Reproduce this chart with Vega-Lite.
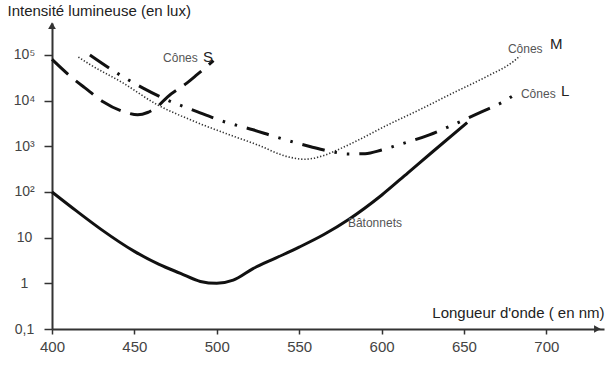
{
  "$schema": "https://vega.github.io/schema/vega-lite/v6.json",
  "width": 552,
  "height": 306,
  "autosize": "none",
  "padding": {"left": 52, "top": 23, "right": 8, "bottom": 36},
  "background": "white",
  "config": {
    "view": {"stroke": null},
    "font": "Liberation Sans",
    "axis": {"domain": true, "ticks": true, "grid": false, "domainColor": "#333333", "domainWidth": 2, "tickColor": "#333333", "tickWidth": 1.5, "labelColor": "#444", "labelFont": "Liberation Sans", "titleFont": "Liberation Sans", "titleFontWeight": "normal", "titleColor": "#222", "titleFontSize": 15, "labelFlush": false}
  },
  "datasets": {
    "curves": [
      {"serie": "Bâtonnets", "nm": 400, "lux": 100},
      {"serie": "Bâtonnets", "nm": 415, "lux": 38},
      {"serie": "Bâtonnets", "nm": 430, "lux": 15},
      {"serie": "Bâtonnets", "nm": 450, "lux": 5},
      {"serie": "Bâtonnets", "nm": 465, "lux": 2.6},
      {"serie": "Bâtonnets", "nm": 478, "lux": 1.65},
      {"serie": "Bâtonnets", "nm": 490, "lux": 1.1},
      {"serie": "Bâtonnets", "nm": 500, "lux": 1.0},
      {"serie": "Bâtonnets", "nm": 510, "lux": 1.17},
      {"serie": "Bâtonnets", "nm": 522, "lux": 2.1},
      {"serie": "Bâtonnets", "nm": 536, "lux": 3.6},
      {"serie": "Bâtonnets", "nm": 550, "lux": 6.2},
      {"serie": "Bâtonnets", "nm": 565, "lux": 11.7},
      {"serie": "Bâtonnets", "nm": 580, "lux": 25},
      {"serie": "Bâtonnets", "nm": 600, "lux": 85},
      {"serie": "Bâtonnets", "nm": 616, "lux": 263},
      {"serie": "Bâtonnets", "nm": 631, "lux": 760},
      {"serie": "Bâtonnets", "nm": 652, "lux": 3300},
      {"serie": "S", "nm": 400, "lux": 80000},
      {"serie": "S", "nm": 410, "lux": 37000},
      {"serie": "S", "nm": 420, "lux": 19000},
      {"serie": "S", "nm": 431, "lux": 9500},
      {"serie": "S", "nm": 445, "lux": 5500},
      {"serie": "S", "nm": 452, "lux": 4900},
      {"serie": "S", "nm": 458, "lux": 5500},
      {"serie": "S", "nm": 464, "lux": 7400},
      {"serie": "S", "nm": 470, "lux": 12000},
      {"serie": "S", "nm": 482, "lux": 24500},
      {"serie": "S", "nm": 488, "lux": 37000},
      {"serie": "S", "nm": 498, "lux": 75000},
      {"serie": "M", "nm": 416, "lux": 90000},
      {"serie": "M", "nm": 423, "lux": 62000},
      {"serie": "M", "nm": 443, "lux": 24500},
      {"serie": "M", "nm": 464, "lux": 8100},
      {"serie": "M", "nm": 484, "lux": 3800},
      {"serie": "M", "nm": 504, "lux": 2000},
      {"serie": "M", "nm": 524, "lux": 1100},
      {"serie": "M", "nm": 544, "lux": 580},
      {"serie": "M", "nm": 553, "lux": 520},
      {"serie": "M", "nm": 565, "lux": 630},
      {"serie": "M", "nm": 575, "lux": 890},
      {"serie": "M", "nm": 585, "lux": 1320},
      {"serie": "M", "nm": 603, "lux": 2850},
      {"serie": "M", "nm": 623, "lux": 6300},
      {"serie": "M", "nm": 643, "lux": 14500},
      {"serie": "M", "nm": 664, "lux": 34000},
      {"serie": "M", "nm": 680, "lux": 72000},
      {"serie": "M", "nm": 684, "lux": 95000},
      {"serie": "L", "nm": 423, "lux": 100000},
      {"serie": "L", "nm": 440, "lux": 39000},
      {"serie": "L", "nm": 455, "lux": 19000},
      {"serie": "L", "nm": 467, "lux": 11500},
      {"serie": "L", "nm": 488, "lux": 5750},
      {"serie": "L", "nm": 501, "lux": 3800},
      {"serie": "L", "nm": 522, "lux": 2300},
      {"serie": "L", "nm": 536, "lux": 1600},
      {"serie": "L", "nm": 557, "lux": 980},
      {"serie": "L", "nm": 570, "lux": 760},
      {"serie": "L", "nm": 580, "lux": 680},
      {"serie": "L", "nm": 590, "lux": 690},
      {"serie": "L", "nm": 600, "lux": 830},
      {"serie": "L", "nm": 610, "lux": 1070},
      {"serie": "L", "nm": 629, "lux": 1780},
      {"serie": "L", "nm": 641, "lux": 2700},
      {"serie": "L", "nm": 661, "lux": 5750},
      {"serie": "L", "nm": 674, "lux": 9500},
      {"serie": "L", "nm": 680, "lux": 13000}
    ],
    "smallLabels": [
      {"text": "Cônes", "nm": 467.4, "lux": 87000},
      {"text": "Cônes", "nm": 676.7, "lux": 132000},
      {"text": "Cônes", "nm": 684.6, "lux": 14000},
      {"text": "Bâtonnets", "nm": 579.6, "lux": 21}
    ],
    "bigLabels": [
      {"text": "S", "nm": 491.6, "lux": 91000},
      {"text": "M", "nm": 702.2, "lux": 170000},
      {"text": "L", "nm": 708.9, "lux": 16600}
    ],
    "arrowUp": [{"nm": 400, "lux": 440000}],
    "arrowRight": [{"nm": 731, "lux": 0.1}]
  },
  "layer": [
    {
      "data": {"name": "curves"},
      "transform": [{"filter": "datum.serie == 'Bâtonnets'"}],
      "mark": {"type": "line", "interpolate": "monotone", "color": "#111", "strokeWidth": 3},
      "encoding": {
        "x": {"field": "nm", "type": "quantitative", "scale": {"domain": [400, 735], "nice": false, "zero": false},
          "axis": {"values": [400, 450, 500, 550, 600, 650, 700], "tickSize": 5,
            "labelFontSize": 15, "labelPadding": 5,
            "title": "Longueur d'onde ( en nm)",
            "titleX": 552, "titleY": -12, "titleAlign": "right", "titleBaseline": "alphabetic"}},
        "y": {"field": "lux", "type": "quantitative", "scale": {"type": "log", "domain": [0.1, 501187], "nice": false},
          "axis": {"values": [0.1, 1, 10, 100, 1000, 10000, 100000], "tickSize": 8,
            "labelFontSize": 14, "labelAlign": "center", "labelPadding": 20, "labelBaseline": "middle",
            "labelExpr": "datum.value < 0.5 ? '0,1' : datum.value < 5 ? '1' : datum.value < 50 ? '10' : datum.value < 500 ? '10²' : datum.value < 5000 ? '10³' : datum.value < 50000 ? '10⁴' : '10⁵'",
            "title": "Intensité lumineuse (en lux)",
            "titleAngle": 0, "titleX": -45, "titleY": -8, "titleAlign": "left", "titleBaseline": "alphabetic"}}
      }
    },
    {
      "data": {"name": "curves"},
      "transform": [{"filter": "datum.serie == 'S'"}],
      "mark": {"type": "line", "interpolate": "monotone", "color": "#111", "strokeWidth": 3, "strokeDash": [22, 10]},
      "encoding": {"x": {"field": "nm", "type": "quantitative"}, "y": {"field": "lux", "type": "quantitative"}}
    },
    {
      "data": {"name": "curves"},
      "transform": [{"filter": "datum.serie == 'M'"}],
      "mark": {"type": "line", "interpolate": "monotone", "color": "#333", "strokeWidth": 1.6, "strokeDash": [1.3, 1.9]},
      "encoding": {"x": {"field": "nm", "type": "quantitative"}, "y": {"field": "lux", "type": "quantitative"}}
    },
    {
      "data": {"name": "curves"},
      "transform": [{"filter": "datum.serie == 'L'"}],
      "mark": {"type": "line", "interpolate": "monotone", "color": "#111", "strokeWidth": 3, "strokeDash": [23, 10, 2.5, 10, 2.5, 10]},
      "encoding": {"x": {"field": "nm", "type": "quantitative"}, "y": {"field": "lux", "type": "quantitative"}}
    },
    {
      "data": {"name": "smallLabels"},
      "mark": {"type": "text", "align": "left", "baseline": "middle", "fontSize": 12, "color": "#555", "font": "Liberation Sans"},
      "encoding": {"x": {"field": "nm", "type": "quantitative"}, "y": {"field": "lux", "type": "quantitative"}, "text": {"field": "text"}}
    },
    {
      "data": {"name": "bigLabels"},
      "mark": {"type": "text", "align": "left", "baseline": "middle", "fontSize": 15, "color": "#222", "font": "Liberation Sans"},
      "encoding": {"x": {"field": "nm", "type": "quantitative"}, "y": {"field": "lux", "type": "quantitative"}, "text": {"field": "text"}}
    },
    {
      "data": {"name": "arrowUp"},
      "mark": {"type": "point", "shape": "triangle-up", "filled": true, "color": "#333333", "size": 60, "opacity": 1},
      "encoding": {"x": {"field": "nm", "type": "quantitative"}, "y": {"field": "lux", "type": "quantitative"}}
    },
    {
      "data": {"name": "arrowRight"},
      "mark": {"type": "point", "shape": "triangle-right", "filled": true, "color": "#333333", "size": 60, "opacity": 1},
      "encoding": {"x": {"field": "nm", "type": "quantitative"}, "y": {"field": "lux", "type": "quantitative"}}
    }
  ]
}
